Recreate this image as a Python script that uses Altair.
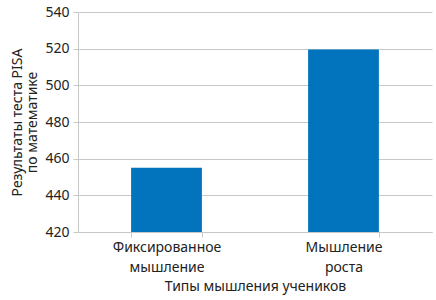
import altair as alt
import pandas as pd

categories = ["Фиксированное|мышление", "Мышление|роста"]
values = [455, 519.5]
baseline = 420

df = pd.DataFrame({"cat": categories, "val": values})

FONT = "Noto Sans"
GRAY = "#c8c8c8"

chart = alt.Chart(df).mark_bar(color="#0274BD").encode(
    x=alt.X("cat:N", sort=None, scale=alt.Scale(paddingInner=0.6, paddingOuter=0.3),
            axis=alt.Axis(title="Типы мышления учеников", labelAngle=0,
                          labelExpr="split(datum.label, '|')",
                          tickBand="extent", tickSize=5, tickColor=GRAY,
                          domainColor=GRAY, labelPadding=3, titlePadding=5,
                          labelLineHeight=20)),
    y=alt.Y("val:Q", scale=alt.Scale(domain=[420, 540], nice=False, zero=False),
            axis=alt.Axis(title=["Результаты теста PISA", "по математике"],
                          values=list(range(420, 541, 20)), tickSize=5,
                          tickColor=GRAY, domainColor=GRAY, gridColor=GRAY,
                          labelPadding=4, titlePadding=5, titleLineHeight=15)),
    y2=alt.datum(baseline),
).properties(
    width=354, height=220,
    autosize=alt.AutoSizeParams(type="none"),
    padding={"left": 78, "top": 12, "right": 4, "bottom": 68},
).configure_axis(
    labelFont=FONT, titleFont=FONT, labelFontSize=14, titleFontSize=14,
    labelColor="#222222", titleColor="#222222", titleFontWeight="normal",
).configure_view(stroke=None)

chart.save("out.html", embed_options={"renderer": "svg", "actions": False})
